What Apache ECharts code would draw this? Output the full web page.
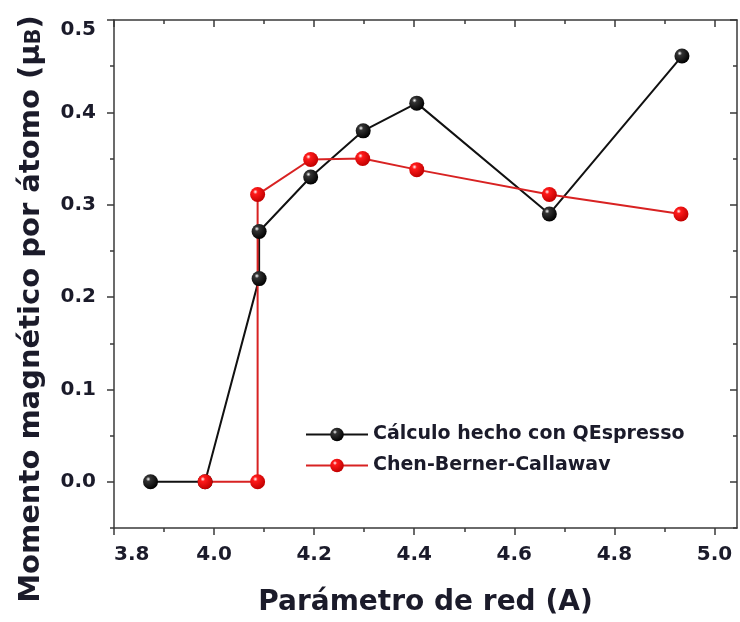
<!DOCTYPE html>
<html>
<head>
<meta charset="utf-8">
<script src="https://cdn.jsdelivr.net/npm/echarts@6/dist/echarts.min.js"></script>
<style>html,body{margin:0;padding:0;background:#fff;}#c{width:740px;height:622px;}</style>
</head>
<body>
<div id="c"></div>
<script>
// Data
const seriesNames = ['Cálculo hecho con QEspresso', 'Chen-Berner-Callawav'];
const qeX = [3.873, 3.982, 4.09, 4.09, 4.193, 4.298, 4.405, 4.67, 4.935];
const qeY = [0.0, 0.0, 0.22, 0.271, 0.33, 0.38, 0.41, 0.29, 0.461];
const cbcX = [3.982, 4.087, 4.087, 4.193, 4.297, 4.405, 4.67, 4.933];
const cbcY = [0.0, 0.0, 0.311, 0.349, 0.35, 0.338, 0.311, 0.29];
const xMajor = [3.8, 4.0, 4.2, 4.4, 4.6, 4.8, 5.0];
const xMinor = [3.9, 4.1, 4.3, 4.5, 4.7, 4.9];
const yMajor = [0.0, 0.1, 0.2, 0.3, 0.4, 0.5];
const yMinor = [-0.05, 0.05, 0.15, 0.25, 0.35, 0.45];

const FONT = 'DejaVu Sans';
const TXT = '#1b1b2a';
const AX = '#3a3a3a';
const X_MIN = 3.8, X_MAX = 5.045, Y_MIN = -0.05, Y_MAX = 0.5;

function sphere(base, dark) {
  return new echarts.graphic.RadialGradient(0.35, 0.32, 0.7, [
    {offset: 0, color: '#ffffff'},
    {offset: 0.22, color: base},
    {offset: 1, color: dark}
  ]);
}

const chart = echarts.init(document.getElementById('c'), null, {renderer: 'canvas'});

function xAx(pos, vals, len, inside, withLine, label) {
  return {
    type: 'value', position: pos, min: X_MIN, max: X_MAX,
    axisLine: {show: withLine, onZero: false, lineStyle: {color: AX, width: 1.5}},
    axisTick: {show: true, inside: inside, length: len, customValues: vals, lineStyle: {color: AX, width: 1.5}},
    axisLabel: label ? {
      show: true, customValues: vals, margin: 17, color: TXT, fontFamily: FONT, fontWeight: 'bold', fontSize: 20,
      formatter: v => v.toFixed(1), alignMinLabel: 'left'
    } : {show: false},
    splitLine: {show: false}
  };
}
function yAx(pos, vals, len, inside, withLine, label) {
  return {
    type: 'value', position: pos, min: Y_MIN, max: Y_MAX,
    axisLine: {show: withLine, onZero: false, lineStyle: {color: AX, width: 1.5}},
    axisTick: {show: true, inside: inside, length: len, customValues: vals, lineStyle: {color: AX, width: 1.5}},
    axisLabel: label ? {
      show: true, customValues: vals, margin: 18, color: TXT, fontFamily: FONT, fontWeight: 'bold', fontSize: 20,
      formatter: v => v.toFixed(1), verticalAlignMaxLabel: 'top'
    } : {show: false},
    splitLine: {show: false}
  };
}

const xMain = xAx('bottom', xMajor, 7, false, true, true);
xMain.name = 'Parámetro de red (A)';
xMain.nameLocation = 'middle';
xMain.nameGap = 61;
xMain.nameTextStyle = {color: TXT, fontFamily: FONT, fontWeight: 'bold', fontSize: 28};

const yMain = yAx('left', yMajor, 7, false, true, true);
yMain.name = 'Momento magnético por átomo (μ{s|B})';
yMain.nameLocation = 'middle';
yMain.nameGap = 68;
yMain.nameTextStyle = {color: TXT, fontFamily: FONT, fontWeight: 'bold', fontSize: 29, padding: [0, 70, 0, 0],
  rich: {s: {color: TXT, fontFamily: FONT, fontWeight: 'bold', fontSize: 21, padding: [6, 0, 0, 0]}}};

const option = {
  backgroundColor: '#ffffff',
  animation: false,
  grid: {left: 114, right: 3, top: 20, bottom: 94, containLabel: false},
  xAxis: [
    xMain,
    xAx('bottom', xMinor, 4, false, false, false),
    xAx('top', xMajor, 7, true, true, false),
    xAx('top', xMinor, 4, true, false, false)
  ],
  yAxis: [
    yMain,
    yAx('left', yMinor, 4, false, false, false),
    yAx('right', yMajor, 7, true, true, false),
    yAx('right', yMinor, 4, true, false, false)
  ],
  legend: {
    orient: 'vertical', left: 300, top: 420, itemWidth: 62, itemHeight: 17, itemGap: 12,
    textStyle: {color: TXT, fontFamily: FONT, fontWeight: 'bold', fontSize: 19},
    data: seriesNames
  },
  series: [
    {
      name: seriesNames[0], type: 'line',
      data: qeX.map((x, i) => [x, qeY[i]]),
      symbol: 'circle', symbolSize: 15,
      lineStyle: {color: '#111111', width: 2},
      itemStyle: {color: sphere('#333333', '#000000'), borderWidth: 0}
    },
    {
      name: seriesNames[1], type: 'line',
      data: cbcX.map((x, i) => [x, cbcY[i]]),
      symbol: 'circle', symbolSize: 15,
      lineStyle: {color: '#d82222', width: 2},
      itemStyle: {color: sphere('#ff1a1a', '#c00000'), borderWidth: 0}
    }
  ]
};
chart.setOption(option);
</script>
</body>
</html>
